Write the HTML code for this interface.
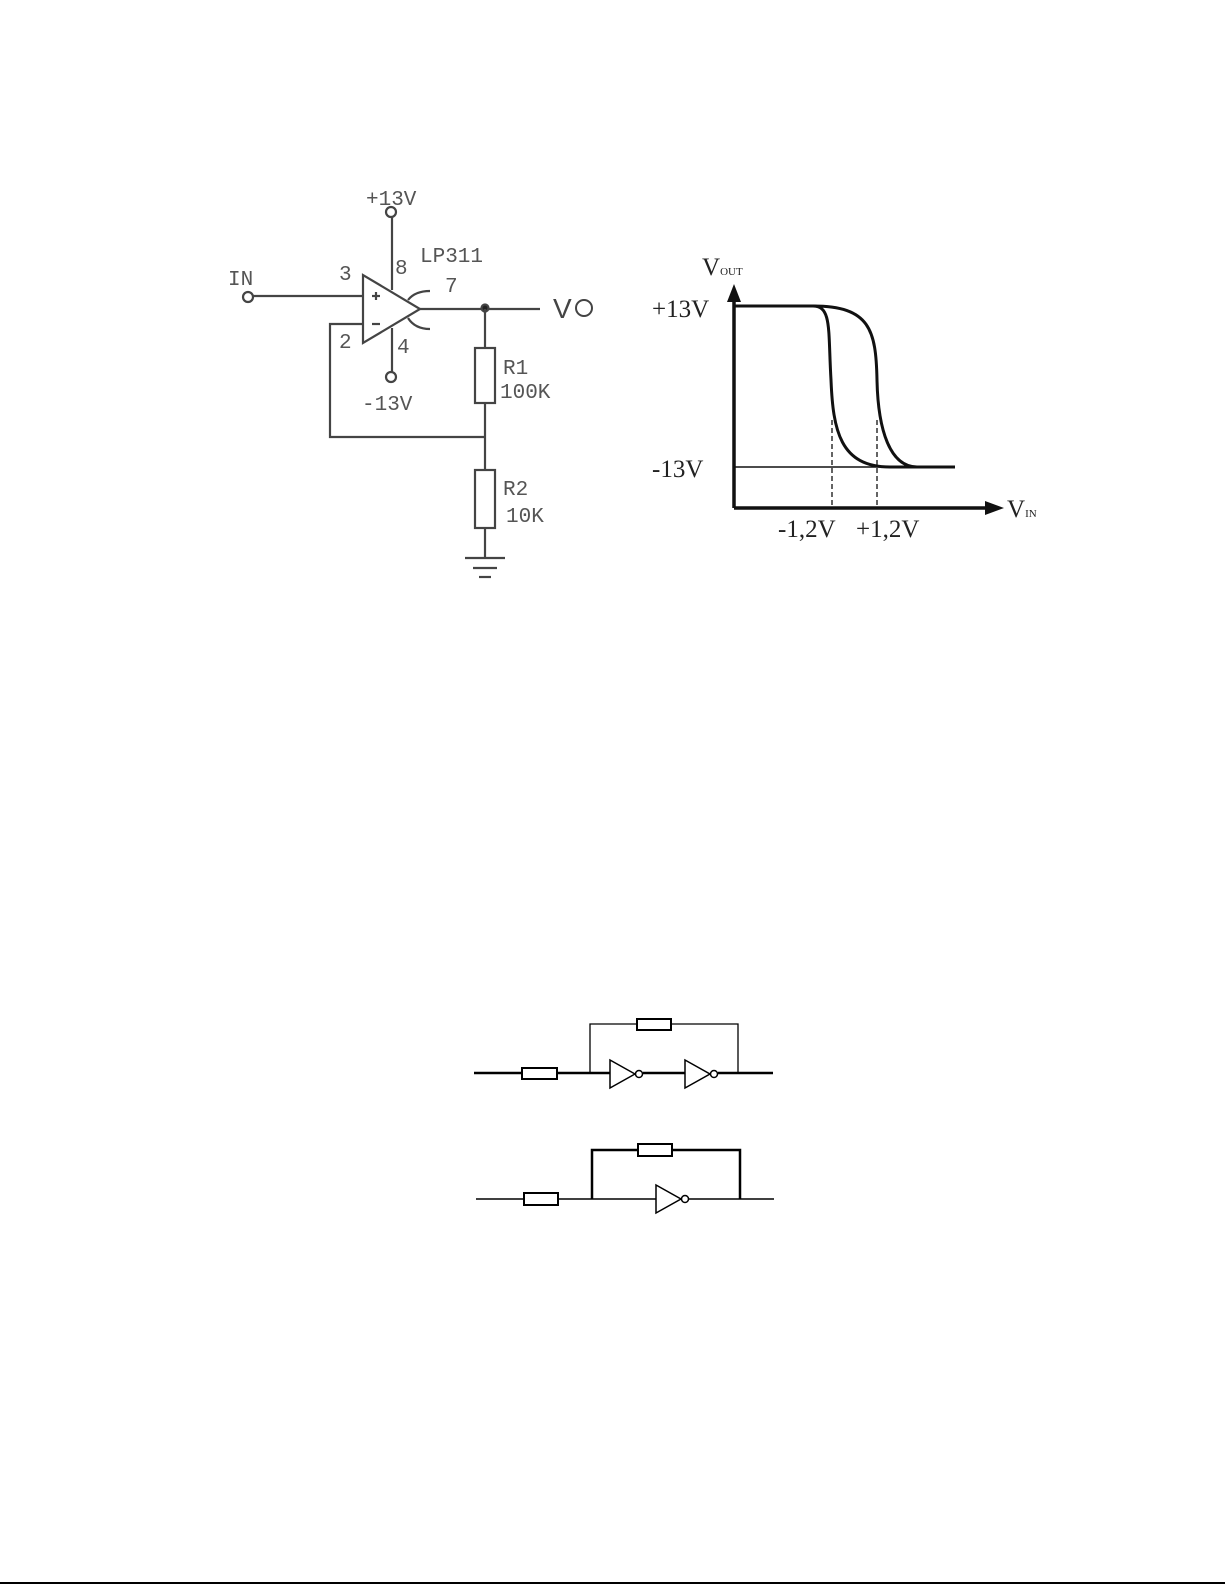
<!DOCTYPE html>
<html><head><meta charset="utf-8"><style>
html,body{margin:0;padding:0;background:#fff;}
svg{display:block;}
.m{font-family:"Liberation Mono",monospace;fill:#555;font-size:21px;}
.s{font-family:"Liberation Serif",serif;fill:#222;font-size:25px;}
</style></head><body>
<svg width="1225" height="1585" viewBox="0 0 1225 1585" xmlns="http://www.w3.org/2000/svg">
<rect width="1225" height="1585" fill="#fff"/>
<!-- op-amp circuit -->
<g stroke="#444" stroke-width="2.2" fill="none">
<circle cx="391" cy="212" r="5" fill="#fff"/>
<line x1="392" y1="217" x2="392" y2="290"/>
<line x1="392" y1="328" x2="392" y2="372"/>
<circle cx="391" cy="377" r="5" fill="#fff"/>
<circle cx="248" cy="297" r="5" fill="#fff"/>
<line x1="253" y1="296" x2="363" y2="296"/>
<polygon points="363,275 363,343 420,309" fill="#fff"/>
<line x1="372" y1="296" x2="380" y2="296"/>
<line x1="376" y1="292" x2="376" y2="300"/>
<line x1="372" y1="324" x2="380" y2="324"/>
<path d="M408,300 Q415,291 430,291"/>
<path d="M408,318 Q415,329 430,329"/>
<line x1="420" y1="309" x2="540" y2="309"/>
<circle cx="485" cy="308" r="3.5" fill="#222"/>
<polyline points="363,324 330,324 330,437 485,437"/>
<line x1="485" y1="309" x2="485" y2="348"/>
<rect x="475" y="348" width="20" height="55" fill="#fff"/>
<line x1="485" y1="403" x2="485" y2="470"/>
<rect x="475" y="470" width="20" height="58" fill="#fff"/>
<line x1="485" y1="528" x2="485" y2="558"/>
<line x1="465" y1="558" x2="505" y2="558"/>
<line x1="473" y1="568" x2="497" y2="568"/>
<line x1="479" y1="577" x2="491" y2="577"/>
</g>
<text class="m" x="366" y="205">+13V</text>
<text class="m" x="395" y="274">8</text>
<text class="m" x="420" y="262">LP311</text>
<text class="m" x="339" y="280">3</text>
<text class="m" x="445" y="292">7</text>
<text class="m" x="339" y="348">2</text>
<text class="m" x="397" y="353">4</text>
<text class="m" x="228" y="285">IN</text>
<text class="m" x="362" y="410">-13V</text>
<text class="m" x="503" y="374">R1</text>
<text class="m" x="500" y="398">100K</text>
<text class="m" x="503" y="495">R2</text>
<text class="m" x="506" y="522">10K</text>
<text x="553" y="318" style="font-family:'Liberation Sans',sans-serif;font-size:28px;fill:#444">V</text>
<circle cx="584" cy="308" r="8" stroke="#444" stroke-width="2" fill="none"/>
<!-- graph -->
<g stroke="#111" fill="none">
<line x1="734" y1="508" x2="734" y2="300" stroke-width="3.5"/>
<polygon points="734,284 727,302 741,302" fill="#111" stroke="none"/>
<line x1="734" y1="508" x2="988" y2="508" stroke-width="3.5"/>
<polygon points="1004,508 985,501 985,515" fill="#111" stroke="none"/>
<line x1="734" y1="467" x2="955" y2="467" stroke-width="1.5"/>
<path d="M734,306 L813,306 C832,306 828,330 831,380 C833,430 840,467 890,467 L955,467" stroke-width="3"/>
<path d="M813,306 C870,306 876,330 877,380 C878,430 890,467 917,467" stroke-width="3"/>
<line x1="832" y1="420" x2="832" y2="508" stroke-width="1.3" stroke-dasharray="5,3"/>
<line x1="877" y1="420" x2="877" y2="508" stroke-width="1.3" stroke-dasharray="5,3"/>
</g>
<text class="s" x="702" y="275">V<tspan font-size="11">OUT</tspan></text>
<text class="s" x="652" y="317">+13V</text>
<text class="s" x="652" y="477">-13V</text>
<text class="s" x="778" y="537">-1,2V</text>
<text class="s" x="856" y="537">+1,2V</text>
<text class="s" x="1007" y="517">V<tspan font-size="11">IN</tspan></text>
<!-- top inverter circuit -->
<g stroke="#000" fill="none">
<line x1="474" y1="1073" x2="522" y2="1073" stroke-width="2.5"/>
<rect x="522" y="1068" width="35" height="11" stroke-width="2" fill="#fff"/>
<line x1="557" y1="1073" x2="610" y2="1073" stroke-width="2.5"/>
<polyline points="590,1073 590,1024 637,1024" stroke-width="1.3"/>
<rect x="637" y="1019" width="34" height="11" stroke-width="2" fill="#fff"/>
<polyline points="671,1024 738,1024 738,1073" stroke-width="1.3"/>
<polygon points="610,1060 610,1088 635,1074" stroke-width="1.5" fill="#fff"/>
<circle cx="639" cy="1074" r="3.5" stroke-width="1.5" fill="#fff"/>
<line x1="643" y1="1073" x2="685" y2="1073" stroke-width="2.5"/>
<polygon points="685,1060 685,1088 710,1074" stroke-width="1.5" fill="#fff"/>
<circle cx="714" cy="1074" r="3.5" stroke-width="1.5" fill="#fff"/>
<line x1="718" y1="1073" x2="773" y2="1073" stroke-width="2.5"/>
</g>
<!-- bottom inverter circuit -->
<g stroke="#000" fill="none">
<line x1="476" y1="1199" x2="524" y2="1199" stroke-width="1.5"/>
<rect x="524" y="1193" width="34" height="12" stroke-width="2" fill="#fff"/>
<line x1="558" y1="1199" x2="656" y2="1199" stroke-width="1.5"/>
<polyline points="592,1199 592,1150 638,1150" stroke-width="2.5"/>
<rect x="638" y="1144" width="34" height="12" stroke-width="2" fill="#fff"/>
<polyline points="672,1150 740,1150 740,1199" stroke-width="2.5"/>
<polygon points="656,1185 656,1213 681,1199" stroke-width="1.5" fill="#fff"/>
<circle cx="685" cy="1199" r="3.5" stroke-width="1.5" fill="#fff"/>
<line x1="689" y1="1199" x2="774" y2="1199" stroke-width="1.5"/>
</g>
<line x1="0" y1="1583" x2="1225" y2="1583" stroke="#000" stroke-width="2"/>
</svg>
</body></html>
